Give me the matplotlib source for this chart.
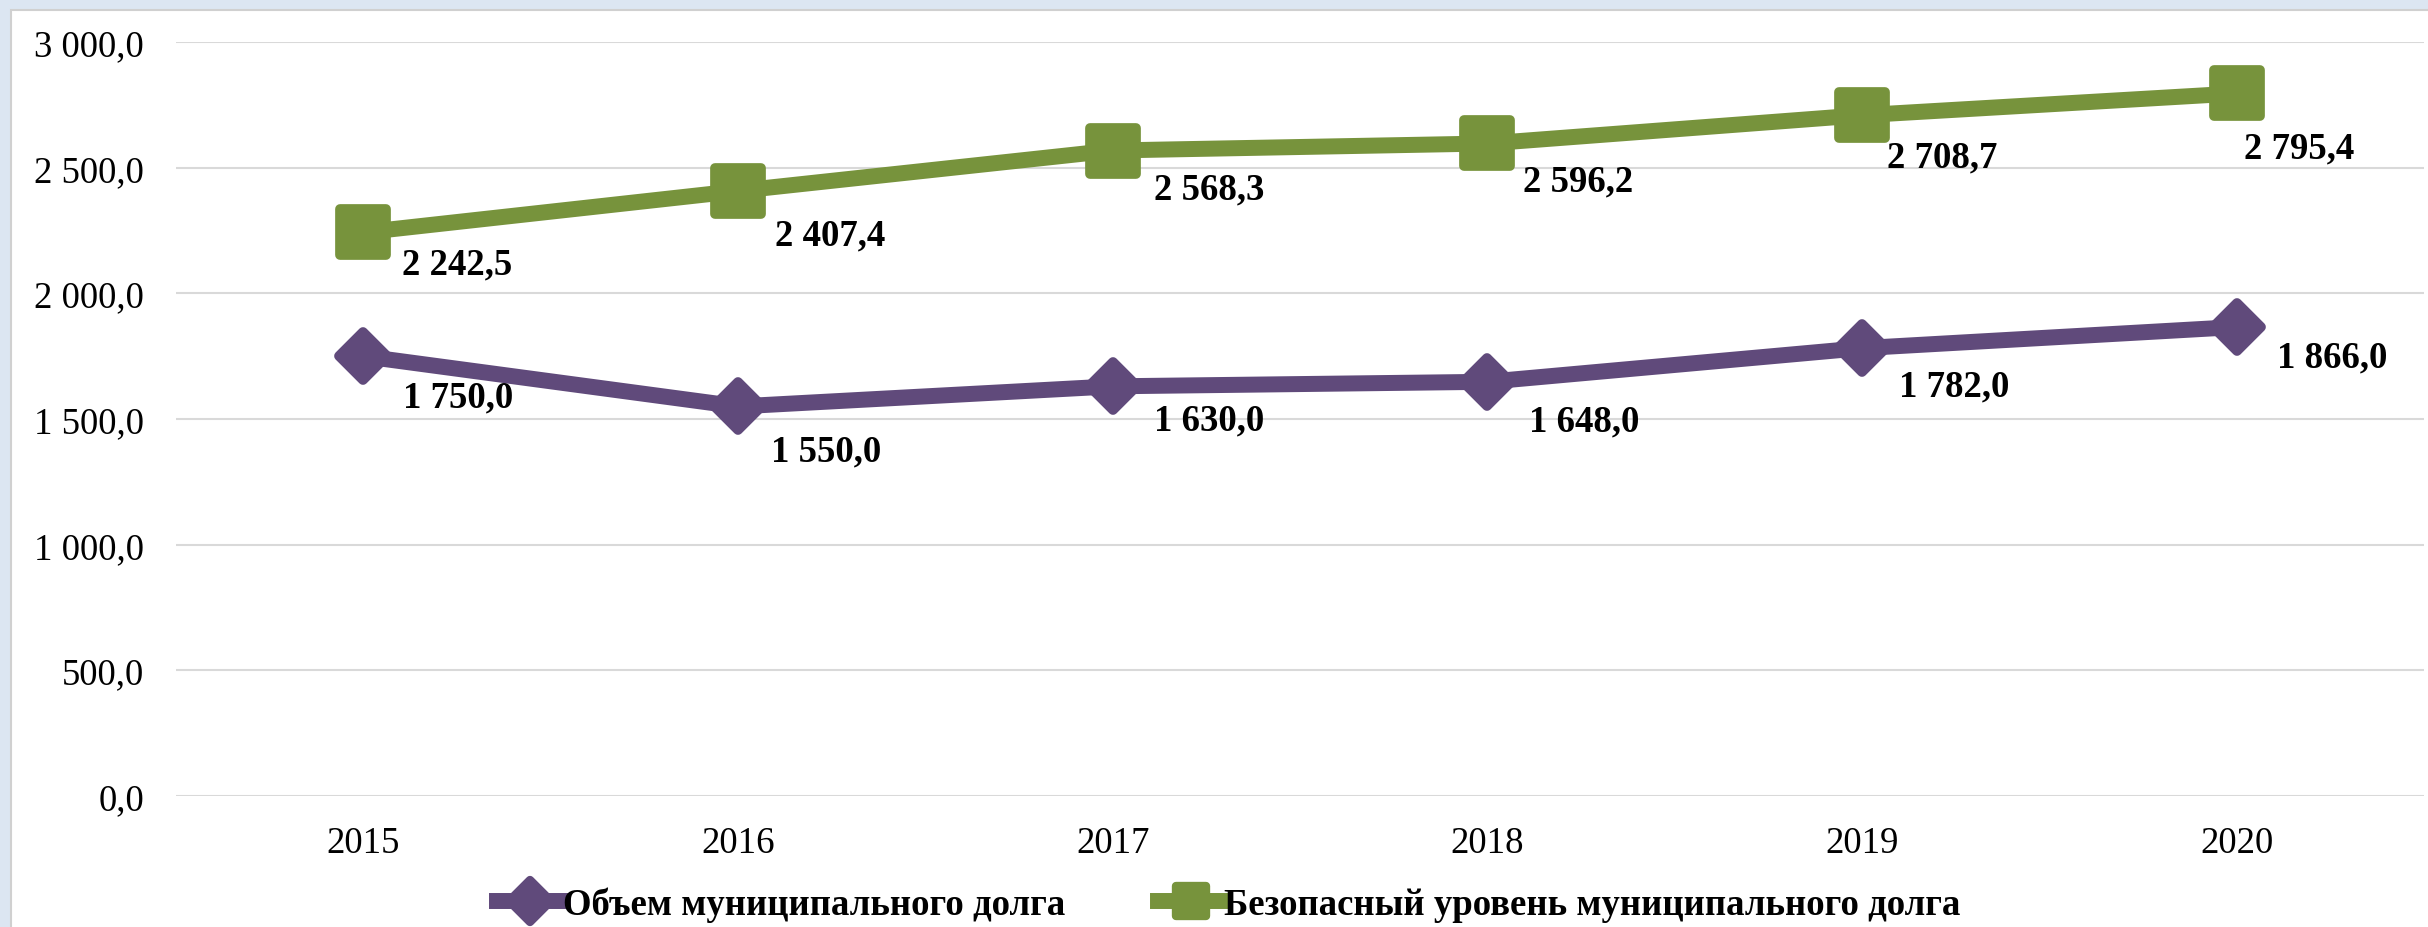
import matplotlib
matplotlib.use("Agg")
import matplotlib.pyplot as plt
from matplotlib.markers import MarkerStyle
from matplotlib.patches import Rectangle
from matplotlib.lines import Line2D

# ---- data ----
years = ["2015", "2016", "2017", "2018", "2019", "2020"]
debt_volume = [1750.0, 1550.0, 1630.0, 1648.0, 1782.0, 1866.0]
safe_level = [2242.5, 2407.4, 2568.3, 2596.2, 2708.7, 2795.4]
series_names = ["Объем муниципального долга", "Безопасный уровень муниципального долга"]
y_ticks = [0, 500, 1000, 1500, 2000, 2500, 3000]

# label offsets in pixels (style)
off_debt = [(40, -41), (33, -45), (41, -34), (42, -39), (37, -38), (40, -30)]
off_safe = [(39, -32), (37, -44), (41, -38), (36, -37), (25, -42), (7, -55)]

PURPLE = "#604a7b"
GREEN = "#77933c"
FONT = "Liberation Serif"

def fmt(v):
    s = f"{v:,.1f}"
    return s.replace(",", " ").replace(".", ",")

plt.rcParams["font.family"] = [FONT, "DejaVu Serif"]

W, H = 2428, 928
fig = plt.figure(figsize=(W / 100, H / 100), dpi=100)
fig.patch.set_facecolor("#dce6f2")
bg = Rectangle((10.5, -5), W, H - 10.5 + 5, transform=None,
               facecolor="white", edgecolor="#d0d0d0", linewidth=1.5, zorder=-10)
fig.add_artist(bg)

ax = fig.add_axes([176 / W, 1 - 797 / H, (2424 - 176) / W, (797 - 43) / H])
ax.set_zorder(1)
ax.set_facecolor("none")
x = list(range(len(years)))

sq = MarkerStyle("s", joinstyle="round")
dm = MarkerStyle("D", joinstyle="round")

ax.plot(x, debt_volume, color=PURPLE, linewidth=11.5, marker=dm, markersize=24,
        markeredgewidth=7, markerfacecolor=PURPLE, markeredgecolor=PURPLE,
        solid_joinstyle="round", clip_on=False, zorder=3)
ax.plot(x, safe_level, color=GREEN, linewidth=11.5, marker=sq, markersize=33,
        markeredgewidth=7, markerfacecolor=GREEN, markeredgecolor=GREEN,
        solid_joinstyle="round", clip_on=False, zorder=3)

for xi, v, o in zip(x, debt_volume, off_debt):
    ax.annotate(fmt(v), (xi, v), xytext=o, textcoords="offset pixels",
                ha="left", va="center", fontsize=26.5, fontweight="bold", family=FONT)
for xi, v, o in zip(x, safe_level, off_safe):
    ax.annotate(fmt(v), (xi, v), xytext=o, textcoords="offset pixels",
                ha="left", va="center", fontsize=26.5, fontweight="bold", family=FONT)

ax.set_xlim(-0.5, len(years) - 0.5)
ax.set_ylim(0, 3000)
ax.set_yticks(y_ticks)
ax.set_yticklabels([fmt(v) for v in y_ticks])
ax.set_xticks(x)
ax.set_xticklabels(years)
ax.tick_params(axis="both", length=0, labelsize=26.5)
ax.tick_params(axis="y", pad=23)
ax.tick_params(axis="x", pad=21)
for s in ax.spines.values():
    s.set_visible(False)
ax.grid(axis="y", color="#d9d9d9", linewidth=1.5)
ax.set_axisbelow(True)

handles = [
    Line2D([0], [0], color=PURPLE, linewidth=11.5, marker=dm, markersize=21,
           markeredgewidth=6, markerfacecolor=PURPLE, markeredgecolor=PURPLE),
    Line2D([0], [0], color=GREEN, linewidth=11.5, marker=sq, markersize=22,
           markeredgewidth=6, markerfacecolor=GREEN, markeredgecolor=GREEN),
]
leg = fig.legend(handles, series_names, loc="center", bbox_to_anchor=(0.506, 1 - 905 / H),
                 ncol=2, frameon=False, handlelength=1.8, handletextpad=0.0,
                 columnspacing=2.5, prop={"family": FONT, "weight": "bold", "size": 26.5})
leg.set_zorder(2)

fig.savefig("out.png", dpi=100, facecolor=fig.get_facecolor())
